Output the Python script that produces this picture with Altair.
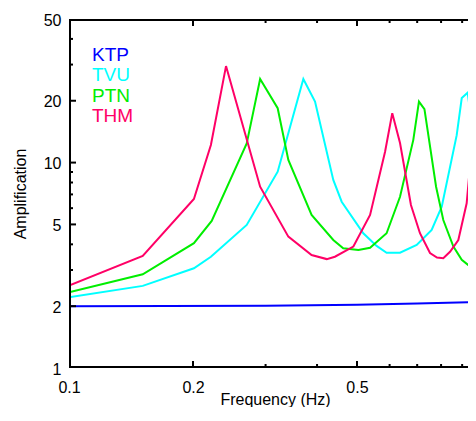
import altair as alt
import pandas as pd

# ---- data ----
series = ["KTP", "TVU", "PTN", "THM"]
colors = ["#0000ff", "#00ffff", "#00ee00", "#ff0066"]

ktp_f = [0.1, 0.3, 0.5, 0.7, 1.0]
ktp_a = [2.0, 2.01, 2.03, 2.06, 2.10]

tvu_f = [0.1, 0.151, 0.201, 0.221, 0.270, 0.321, 0.3705, 0.3955, 0.438, 0.459, 0.518,
         0.558, 0.590, 0.636, 0.698, 0.759, 0.803, 0.873, 0.898, 0.928, 0.973, 1.0]
tvu_a = [2.21, 2.51, 3.06, 3.48, 4.97, 9.03, 25.5, 19.8, 8.23, 6.45, 4.53,
         3.93, 3.64, 3.64, 3.97, 4.70, 6.10, 13.6, 20.6, 21.9, 10.9, 8.0]

ptn_f = [0.1, 0.151, 0.201, 0.222, 0.270, 0.291, 0.321, 0.3407, 0.388, 0.438, 0.463,
         0.504, 0.538, 0.590, 0.636, 0.685, 0.707, 0.729, 0.778, 0.810, 0.857, 0.898,
         0.931, 0.973, 1.0]
ptn_a = [2.34, 2.86, 4.05, 5.20, 12.4, 25.5, 18.4, 10.3, 5.56, 4.20, 3.83,
         3.75, 3.85, 4.53, 6.82, 12.9, 19.8, 18.2, 7.63, 5.25, 3.90, 3.36,
         3.17, 3.11, 3.10]

thm_f = [0.1, 0.151, 0.201, 0.221, 0.2405, 0.291, 0.3407, 0.388, 0.4222, 0.442, 0.490,
         0.538, 0.585, 0.609, 0.636, 0.676, 0.711, 0.752, 0.782, 0.810, 0.841, 0.881,
         0.923, 0.973, 1.0]
thm_a = [2.52, 3.51, 6.65, 12.18, 29.5, 7.63, 4.36, 3.55, 3.39, 3.48, 3.90,
         5.56, 11.3, 17.4, 12.45, 6.22, 4.53, 3.63, 3.45, 3.42, 3.68, 4.20,
         6.34, 20.2, 28.0]

x_labels = [0.1, 0.2, 0.5]
y_labels = [1, 2, 5, 10, 20, 50]
x_major_ticks = [0.2, 0.5]
x_minor_ticks = [0.3, 0.4, 0.6, 0.7, 0.8, 0.9]
y_major_ticks = [2, 5, 10, 20]
y_minor_ticks = [3, 4, 6, 7, 8, 9, 30, 40]

# ---- layout ----
FONT = "Liberation Sans"
INK = "#000000"
X0, Y0, Y1 = 0.1, 1.0, 50.0
W_FULL = 412          # pixels per decade on x (0.1 .. 1.0)
W = 399               # visible part of the plot (page width limits the rest)
H = 349
XMAX = X0 * 10 ** (W / W_FULL)
PPD_Y = H / 1.6989700043360187   # pixels per decade on y (1 .. 50)
MAJ, MIN = 7, 4                   # tick lengths in pixels

rows = []
for name, fs, amps in zip(series, [ktp_f, tvu_f, ptn_f, thm_f], [ktp_a, tvu_a, ptn_a, thm_a]):
    for i, (f, a) in enumerate(zip(fs, amps)):
        rows.append({"kind": "data", "series": name, "g": name, "f": f, "a": a, "i": i})

# frame (top, left, bottom), drawn 1 px inside the plot edges so clipping keeps it whole
fx = X0 * 10 ** (1 / W_FULL)
fy0 = Y0 * 10 ** (1 / PPD_Y)
fy1 = Y1 / 10 ** (1 / PPD_Y)
for i, (f, a) in enumerate([(XMAX * 1.01, fy1), (fx, fy1), (fx, fy0), (XMAX * 1.01, fy0)]):
    rows.append({"kind": "frame", "series": "frame", "g": "frame", "f": f, "a": a, "i": i})

# inward ticks as short two-point segments
n = 0


def seg(p, q):
    global n
    for i, (f, a) in enumerate([p, q]):
        rows.append({"kind": "tick", "series": "tick", "g": f"t{n:02d}", "f": f, "a": a, "i": i})
    n += 1


for vals, ln in ((x_major_ticks, MAJ), (x_minor_ticks, MIN)):
    dy = 10 ** (ln / PPD_Y)
    for v in vals:
        seg((v, Y0), (v, Y0 * dy))
        seg((v, Y1), (v, Y1 / dy))
for vals, ln in ((y_major_ticks, MAJ), (y_minor_ticks, MIN)):
    dx = 10 ** (ln / W_FULL)
    for v in vals:
        seg((X0, v), (X0 * dx, v))

df = pd.DataFrame(rows)

xscale = alt.Scale(type="log", domain=[X0, XMAX], nice=False)
yscale = alt.Scale(type="log", domain=[Y0, Y1], nice=False)

xaxis = alt.Axis(values=x_labels, format="~g", ticks=False, grid=False, domain=False,
                 labelFont=FONT, labelFontSize=16, labelColor=INK, labelPadding=11,
                 labelFlush=False,
                 title="Frequency (Hz)", titleFont=FONT, titleFontSize=16,
                 titleFontWeight="normal", titleColor=INK,
                 titleX=W_FULL / 2, titleY=36, titleBaseline="alphabetic", titleAlign="center")
yaxis = alt.Axis(values=y_labels, format="~g", ticks=False, grid=False, domain=False,
                 labelFont=FONT, labelFontSize=16, labelColor=INK, labelPadding=8,
                 labelFlush=False, labelOffset=1,
                 title="Amplification", titleFont=FONT, titleFontSize=16,
                 titleFontWeight="normal", titleColor=INK, titleAngle=270,
                 titleX=-49, titleY=H / 2, titleBaseline="middle", titleAlign="center")

all_lines = alt.Chart(df).mark_line(clip=True, strokeJoin="miter").encode(
    x=alt.X("f:Q", scale=xscale, axis=xaxis),
    y=alt.Y("a:Q", scale=yscale, axis=yaxis),
    color=alt.Color("series:N",
                    scale=alt.Scale(domain=series + ["frame", "tick"],
                                    range=colors + [INK, INK]),
                    legend=None),
    strokeWidth=alt.StrokeWidth("kind:N",
                                scale=alt.Scale(domain=["data", "frame", "tick"],
                                                range=[2, 2, 1.5]),
                                legend=None),
    detail="g:N",
    order="i:Q",
)

legend_layers = []
for k, (name, col) in enumerate(zip(series, colors)):
    legend_layers.append(
        alt.Chart(pd.DataFrame({"t": [name]})).mark_text(
            font=FONT, fontSize=19, align="left", baseline="alphabetic", color=col
        ).encode(text="t:N", x=alt.value(23), y=alt.value(41.5 + 20.5 * k))
    )

chart = alt.layer(all_lines, *legend_layers).properties(
    width=W, height=H,
    autosize=alt.AutoSizeParams(type="none"),
    padding={"left": 61, "top": 11, "right": 0, "bottom": 39},
    background="white",
).configure_view(strokeWidth=0)

chart.save("out.html", embed_options={"renderer": "svg", "actions": False})
